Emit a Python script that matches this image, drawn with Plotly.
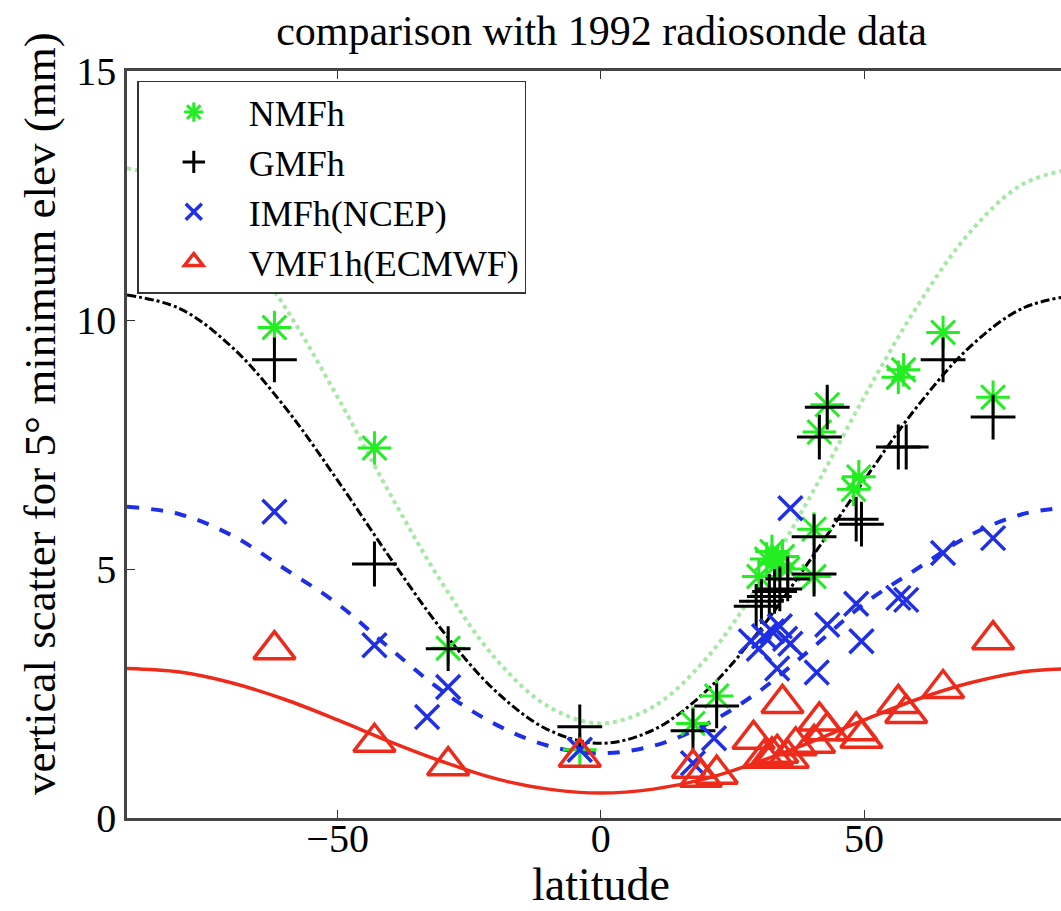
import plotly.graph_objects as go

# ---- data ----
nmf_lat = [-62, -43, -29, -4, 17.5, 22, 30, 31.5, 32.5, 33.5, 34.5, 35.5, 40.5, 40.5, 41.5, 43, 48, 49, 56.5, 57.5, 65, 74.5]
nmf_val = [9.85, 7.43, 3.41, 1.37, 1.9, 2.45, 4.85, 5.2, 5.35, 5.1, 5.25, 5.0, 5.8, 4.85, 7.75, 8.3, 6.6, 6.85, 8.85, 9.0, 9.75, 8.45]

gmf_lat = [-62, -43, -29, -4, 17.5, 22, 29.5, 30.5, 32, 33, 34, 35.5, 40.5, 40.5, 41.5, 43, 48.5, 49.5, 56.5, 58, 65, 74.5]
gmf_val = [9.2, 5.1, 3.4, 1.83, 1.75, 2.25, 4.25, 4.35, 4.45, 4.55, 4.6, 4.8, 5.65, 4.9, 7.65, 8.25, 6.0, 5.9, 7.45, 7.45, 9.2, 8.05]

imf_lat = [-62, -43, -29, -33, -4, 17.5, 21.5, 28.5, 30, 31, 32.5, 33.5, 34, 35, 36, 36, 41, 43, 48.5, 49.5, 56.5, 58, 65, 74.5]
imf_val = [6.15, 3.47, 2.63, 2.03, 1.37, 1.1, 1.6, 3.55, 3.4, 3.65, 3.75, 3.0, 3.85, 3.6, 3.5, 6.22, 2.92, 3.88, 4.3, 3.55, 4.42, 4.38, 5.32, 5.62]

vmf_lat = [-62, -43, -29, -4, 17.5, 19, 22, 29, 31, 32.5, 33.5, 34.5, 35.5, 37, 40.5, 41.5, 43, 48.5, 49.5, 56.5, 58, 65, 74.5]
vmf_val = [3.38, 1.52, 1.05, 1.22, 1.0, 0.82, 0.88, 1.58, 1.2, 1.25, 1.3, 2.3, 1.2, 1.45, 1.5, 1.95, 1.75, 1.75, 1.6, 2.3, 2.1, 2.6, 3.58]

curve_lat = [-90, -80, -70, -60, -50, -40, -30, -20, -10, 0, 10, 20, 30, 40, 50, 60, 70, 80, 90]
nmf_curve = [13.05, 12.72, 11.75, 10.26, 8.45, 6.5, 4.69, 3.2, 2.24, 1.9, 2.24, 3.2, 4.69, 6.5, 8.45, 10.26, 11.75, 12.72, 13.05]
gmf_curve = [10.5, 10.23, 9.45, 8.25, 6.78, 5.22, 3.75, 2.55, 1.77, 1.5, 1.77, 2.55, 3.75, 5.22, 6.78, 8.25, 9.45, 10.23, 10.5]
imf_curve = [6.25, 6.1, 5.67, 5.0, 4.3, 3.4, 2.54, 1.88, 1.45, 1.3, 1.45, 1.88, 2.54, 3.4, 4.3, 5.0, 5.67, 6.1, 6.25]
vmf_curve = [3.0, 2.93, 2.71, 2.38, 1.97, 1.53, 1.13, 0.79, 0.58, 0.5, 0.58, 0.79, 1.13, 1.53, 1.97, 2.38, 2.71, 2.93, 3.0]

x_ticks = [-50, 0, 50]
y_ticks = [0, 5, 10, 15]

GREEN = "#22ee22"
BLACK = "#000000"
BLUE = "#1f2fe6"
RED = "#ee2a1a"
FONT = "Liberation Serif"

fig = go.Figure()

# fitted curves
fig.add_trace(go.Scatter(x=curve_lat, y=nmf_curve, mode="lines", line=dict(color="#a6e8a6", width=4, dash="dot", shape="spline"), showlegend=False, hoverinfo="skip"))
fig.add_trace(go.Scatter(x=curve_lat, y=gmf_curve, mode="lines", line=dict(color=BLACK, width=3, dash="dashdot", shape="spline"), showlegend=False, hoverinfo="skip"))
fig.add_trace(go.Scatter(x=curve_lat, y=imf_curve, mode="lines", line=dict(color=BLUE, width=4, dash="dash", shape="spline"), showlegend=False, hoverinfo="skip"))
fig.add_trace(go.Scatter(x=curve_lat, y=vmf_curve, mode="lines", line=dict(color=RED, width=3.5, shape="spline"), showlegend=False, hoverinfo="skip"))

# data points
fig.add_trace(go.Scatter(x=nmf_lat, y=nmf_val, mode="markers", name="NMFh",
                         marker=dict(symbol="asterisk-open", size=28, color=GREEN, line=dict(color=GREEN, width=3))))
fig.add_trace(go.Scatter(x=gmf_lat, y=gmf_val, mode="markers", name="GMFh",
                         marker=dict(symbol="cross-thin-open", size=32, color=BLACK, line=dict(color=BLACK, width=3))))
fig.add_trace(go.Scatter(x=imf_lat, y=imf_val, mode="markers", name="IMFh(NCEP)",
                         marker=dict(symbol="x-thin-open", size=24, color=BLUE, line=dict(color=BLUE, width=3.5))))
fig.add_trace(go.Scatter(x=vmf_lat, y=vmf_val, mode="markers", name="VMF1h(ECMWF)",
                         marker=dict(symbol="triangle-up-open", size=36, color=RED, line=dict(color=RED, width=3.5))))

fig.update_layout(
    width=1061, height=911,
    margin=dict(l=127, r=0, t=71, b=93),
    paper_bgcolor="white", plot_bgcolor="white",
    font=dict(family=FONT, size=40, color="black"),
    title=dict(text="comparison with 1992 radiosonde data", x=0.567, xanchor="center", y=0.967, yanchor="middle",
               font=dict(family=FONT, size=42, color="black")),
    legend=dict(x=0.011, y=0.987, xanchor="left", yanchor="top", bordercolor="#333333", borderwidth=1.5,
                bgcolor="white", itemwidth=100, font=dict(family=FONT, size=36, color="black")),
    showlegend=True,
    annotations=[
        dict(text="latitude", xref="paper", yref="paper", x=0.5075, y=(818 - 884) / 747, xanchor="center", yanchor="middle",
             showarrow=False, font=dict(family=FONT, size=46, color="black")),
        dict(text="vertical scatter for 5° minimum elev (mm)", xref="paper", yref="paper",
             x=(40 - 127) / 934, y=(818 - 414) / 747, xanchor="center", yanchor="middle", textangle=-90,
             showarrow=False, font=dict(family=FONT, size=45, color="black")),
    ],
)
fig.update_xaxes(range=[-90, 87.4], tickvals=x_ticks, ticks="inside", ticklen=8, tickcolor="#333333",
                 showline=True, linecolor="#444444", linewidth=2.5, mirror="ticks", showgrid=False, zeroline=False,
                 automargin=False, ticklabelstandoff=-17,
                 tickfont=dict(family=FONT, size=40))
fig.update_yaxes(range=[0, 15], tickvals=y_ticks, ticks="inside", ticklen=8, tickcolor="#333333",
                 showline=True, linecolor="#444444", linewidth=2.5, showgrid=False, zeroline=False,
                 automargin=False,
                 tickfont=dict(family=FONT, size=40))

fig.write_html("out.html")
